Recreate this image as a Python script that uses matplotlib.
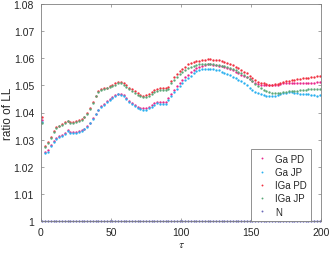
import matplotlib
matplotlib.use("Agg")
import matplotlib.pyplot as plt

plt.rcParams['font.family'] = ['Liberation Sans', 'DejaVu Sans']
plt.rcParams['mathtext.fontset'] = 'stix'

tau = list(range(1, 200, 2))

ga_pd = [1.0372, 1.0255, 1.0260, 1.0281, 1.0296, 1.0306, 1.0313, 1.0318, 1.0325, 1.0335,
         1.0329, 1.0327, 1.0328, 1.0331, 1.0335, 1.0341, 1.0350, 1.0363, 1.0379, 1.0396,
         1.0411, 1.0423, 1.0432, 1.0441, 1.0449, 1.0458, 1.0465, 1.0470, 1.0469, 1.0463,
         1.0454, 1.0444, 1.0436, 1.0428, 1.0422, 1.0418, 1.0416, 1.0416, 1.0420, 1.0426,
         1.0434, 1.0439, 1.0439, 1.0437, 1.0438, 1.0452, 1.0468, 1.0484, 1.0497, 1.0508,
         1.0520, 1.0530, 1.0540, 1.0549, 1.0557, 1.0564, 1.0569, 1.0573, 1.0576, 1.0577,
         1.0577, 1.0576, 1.0575, 1.0573, 1.0570, 1.0567, 1.0563, 1.0559, 1.0555, 1.0550,
         1.0545, 1.0540, 1.0535, 1.0530, 1.0523, 1.0516, 1.0510, 1.0505, 1.0502, 1.0500,
         1.0500, 1.0500, 1.0500, 1.0501, 1.0503, 1.0505, 1.0507, 1.0509, 1.0510, 1.0510,
         1.0510, 1.0509, 1.0508, 1.0508, 1.0508, 1.0509, 1.0510, 1.0510, 1.0511, 1.0512]

ga_jp = [1.0365, 1.0252, 1.0256, 1.0278, 1.0293, 1.0303, 1.0310, 1.0315, 1.0322, 1.0332,
         1.0326, 1.0324, 1.0325, 1.0328, 1.0332, 1.0338, 1.0347, 1.0360, 1.0376, 1.0393,
         1.0408, 1.0420, 1.0429, 1.0438, 1.0446, 1.0455, 1.0462, 1.0467, 1.0466, 1.0460,
         1.0450, 1.0440, 1.0432, 1.0424, 1.0418, 1.0413, 1.0411, 1.0411, 1.0415, 1.0421,
         1.0429, 1.0434, 1.0433, 1.0430, 1.0431, 1.0445, 1.0460, 1.0475, 1.0487, 1.0497,
         1.0508, 1.0518, 1.0527, 1.0536, 1.0545, 1.0552, 1.0557, 1.0560, 1.0562, 1.0561,
         1.0560, 1.0559, 1.0557, 1.0555, 1.0551, 1.0547, 1.0542, 1.0537, 1.0532, 1.0527,
         1.0521, 1.0515, 1.0508, 1.0500, 1.0492, 1.0484, 1.0477, 1.0471, 1.0467, 1.0464,
         1.0462, 1.0461, 1.0461, 1.0462, 1.0465, 1.0468, 1.0471, 1.0473, 1.0474, 1.0474,
         1.0473, 1.0471, 1.0470, 1.0469, 1.0468, 1.0467, 1.0465, 1.0463, 1.0462, 1.0463]

iga_pd = [1.0385, 1.0278, 1.0290, 1.0310, 1.0332, 1.0346, 1.0352, 1.0358, 1.0366, 1.0370,
          1.0366, 1.0365, 1.0368, 1.0372, 1.0376, 1.0385, 1.0397, 1.0415, 1.0438, 1.0462,
          1.0480, 1.0487, 1.0489, 1.0492, 1.0498, 1.0503, 1.0507, 1.0511, 1.0512, 1.0508,
          1.0500, 1.0492, 1.0485, 1.0478, 1.0471, 1.0465, 1.0462, 1.0463, 1.0468, 1.0475,
          1.0482, 1.0488, 1.0490, 1.0489, 1.0489, 1.0495, 1.0515, 1.0530, 1.0542, 1.0553,
          1.0562, 1.0569, 1.0577, 1.0583, 1.0588, 1.0591, 1.0591, 1.0593, 1.0595, 1.0596,
          1.0596, 1.0595, 1.0594, 1.0593, 1.0590, 1.0586, 1.0582, 1.0578, 1.0574, 1.0569,
          1.0564, 1.0558, 1.0551, 1.0544, 1.0536, 1.0528, 1.0520, 1.0514, 1.0510, 1.0507,
          1.0505, 1.0503, 1.0503, 1.0504, 1.0506, 1.0509, 1.0512, 1.0515, 1.0517, 1.0518,
          1.0520, 1.0522, 1.0524, 1.0526, 1.0527, 1.0528, 1.0530, 1.0531, 1.0533, 1.0536]

iga_jp = [1.0362, 1.0272, 1.0287, 1.0307, 1.0329, 1.0343, 1.0349, 1.0355, 1.0363, 1.0367,
          1.0363, 1.0362, 1.0365, 1.0369, 1.0373, 1.0382, 1.0394, 1.0412, 1.0435, 1.0459,
          1.0477, 1.0484, 1.0486, 1.0489, 1.0495, 1.0499, 1.0503, 1.0507, 1.0507, 1.0502,
          1.0494, 1.0486, 1.0479, 1.0472, 1.0465, 1.0460, 1.0457, 1.0458, 1.0462, 1.0469,
          1.0476, 1.0481, 1.0483, 1.0482, 1.0482, 1.0488, 1.0507, 1.0521, 1.0532, 1.0542,
          1.0550, 1.0557, 1.0563, 1.0568, 1.0573, 1.0576, 1.0577, 1.0578, 1.0579, 1.0579,
          1.0578, 1.0577, 1.0576, 1.0575, 1.0573, 1.0570, 1.0567, 1.0563, 1.0559, 1.0555,
          1.0550, 1.0545, 1.0539, 1.0532, 1.0524, 1.0515, 1.0505, 1.0496, 1.0489, 1.0483,
          1.0478, 1.0475, 1.0473, 1.0472, 1.0472, 1.0473, 1.0475, 1.0477, 1.0478, 1.0479,
          1.0480, 1.0481, 1.0482, 1.0483, 1.0484, 1.0485, 1.0485, 1.0486, 1.0486, 1.0487]

n_vals = [1.0] * len(tau)

series = [
    ("Ga PD", ga_pd, "#e8288c"),
    ("Ga JP", ga_jp, "#2ab0f0"),
    ("IGa PD", iga_pd, "#f03040"),
    ("IGa JP", iga_jp, "#5aa878"),
    ("N", n_vals, "#6a68b8"),
]

xticks = [0, 50, 100, 150, 200]
yticks = [1.0, 1.01, 1.02, 1.03, 1.04, 1.05, 1.06, 1.07, 1.08]
yticklabels = ["1", "1.01", "1.02", "1.03", "1.04", "1.05", "1.06", "1.07", "1.08"]

fig = plt.figure(figsize=(3.32, 2.55), dpi=100)
ax = fig.add_axes([41/332, 1-222/255, 280/332, 217/255])

for name, vals, col in series:
    ax.plot(tau, vals, linestyle='none', marker='o', markersize=1.7,
            markeredgewidth=0, color=col, label=name, clip_on=False)

ax.set_xlim(0, 200)
ax.set_ylim(1.0, 1.08)
ax.set_xticks(xticks)
ax.set_xticklabels([str(t) for t in xticks])
ax.set_yticks(yticks)
ax.set_yticklabels(yticklabels)

axc = '#262626'
for sp in ax.spines.values():
    sp.set_color('#808080')
    sp.set_linewidth(0.6)
ax.tick_params(direction='in', length=2.5, width=0.5, colors='#808080',
               labelcolor=axc, labelsize=7.5, top=True, right=True)
ax.tick_params(axis='y', pad=5)
ax.tick_params(axis='x', pad=4)

ax.set_xlabel(r'$\tau$', fontsize=8.5, color=axc, labelpad=1)
ax.set_ylabel('ratio of LL', fontsize=8.5, color=axc)
ax.yaxis.set_label_coords(-0.098, 0.5)

leg = ax.legend(loc='lower right', bbox_to_anchor=(0.964, 0.0), borderaxespad=0,
                fontsize=7, frameon=True, fancybox=False, framealpha=1,
                markerscale=0.8, handlelength=1.4, handletextpad=0.6,
                labelspacing=0.33, borderpad=0.45)
leg.get_frame().set_edgecolor('#808080')
leg.get_frame().set_linewidth(0.6)
for t in leg.get_texts():
    t.set_color(axc)

fig.savefig("out.png", dpi=100)
